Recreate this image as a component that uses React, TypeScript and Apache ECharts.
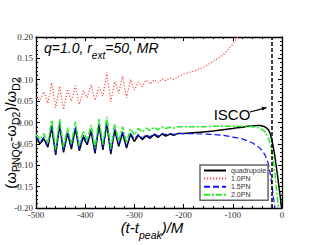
import React, { useEffect, useRef } from "react";
import * as echarts from "echarts";

const times = [
  -500, -492, -484, -476, -468, -460, -452, -444, -436, -428, -420, -412, -404, -396, -388, -380, -372, -364, -356, -348, -340, -332, -324, -316, -308, -300,
  -292, -284, -276, -268, -260, -252, -244, -236, -228, -220, -212,
  -200, -180, -160, -140, -120, -100, -90, -80, -70, -60, -50, -45, -40, -35, -30, -27, -24, -21, -18, -15, -12, -9, -6, -3, 0,
];

const quadrupole = [
  -0.035, -0.050, -0.038, -0.058, -0.010, -0.076, -0.006, -0.070, -0.025, -0.062, -0.014, -0.066, -0.034, -0.052, -0.020, -0.072, -0.006, -0.064, -0.001, -0.074, -0.018, -0.056, -0.024, -0.060, -0.028, -0.044,
  -0.030, -0.040, -0.031, -0.037, -0.028, -0.035, -0.027, -0.032, -0.027, -0.030, -0.026,
  -0.026, -0.024, -0.022, -0.020, -0.017, -0.014, -0.012, -0.011, -0.009, -0.008, -0.007, -0.007, -0.008, -0.010, -0.014, -0.018, -0.026, -0.040, -0.055, -0.075, -0.100, -0.125, -0.152, -0.178, -0.210,
];

const pn10 = [
  0.060, 0.052, 0.072, 0.045, 0.093, 0.034, 0.085, 0.030, 0.078, 0.050, 0.086, 0.042, 0.074, 0.058, 0.088, 0.052, 0.082, 0.062, 0.117, 0.049, 0.096, 0.068, 0.108, 0.058, 0.101, 0.076,
  0.095, 0.084, 0.099, 0.090, 0.100, 0.094, 0.102, 0.098, 0.104, 0.101, 0.106,
  0.114, 0.120, 0.129, 0.143, 0.158, 0.183, 0.200, 0.222, null, null, null, null, null, null, null, null, null, null, null, null, null, null, null, null, null,
];

const pn15 = [
  -0.032, -0.047, -0.034, -0.055, -0.006, -0.072, -0.002, -0.066, -0.021, -0.058, -0.010, -0.062, -0.030, -0.048, -0.016, -0.068, -0.002, -0.060, 0.003, -0.070, -0.014, -0.052, -0.020, -0.056, -0.025, -0.040,
  -0.027, -0.037, -0.028, -0.034, -0.026, -0.032, -0.025, -0.029, -0.025, -0.028, -0.025,
  -0.026, -0.026, -0.027, -0.028, -0.030, -0.034, -0.036, -0.039, -0.043, -0.048, -0.055, -0.060, -0.066, -0.075, -0.088, -0.100, -0.120, -0.142, -0.170, -0.195, -0.230, -0.270, -0.300, -0.330, -0.360,
];

const pn20 = [
  -0.028, -0.040, -0.026, -0.048, 0.006, -0.064, 0.008, -0.058, -0.012, -0.050, 0.002, -0.054, -0.020, -0.042, -0.006, -0.060, 0.008, -0.052, 0.013, -0.062, -0.004, -0.044, -0.010, -0.048, -0.014, -0.030,
  -0.014, -0.022, -0.013, -0.019, -0.011, -0.017, -0.010, -0.014, -0.011, -0.013, -0.010,
  -0.010, -0.010, -0.010, -0.009, -0.009, -0.009, -0.009, -0.009, -0.009, -0.010, -0.012, -0.014, -0.017, -0.021, -0.030, -0.038, -0.050, -0.065, -0.088, -0.115, -0.145, -0.180, -0.215, -0.250, -0.280,
];

const iscoT = -21;
const seriesNames = ["quadrupole", "1.0PN", "1.5PN", "2.0PN"];

const pairs = (vals: (number | null)[]) => times.map((t, i) => [t, vals[i]]);

export default function App() {
  const ref = useRef<HTMLDivElement>(null);
  useEffect(() => {
    document.body.style.margin = "0";
    const chart = echarts.init(ref.current!, null, { renderer: "svg" });
    const tickLabel = { fontFamily: "Liberation Serif", fontSize: 9, color: "#333" };
    const axisCommon = {
      axisLine: { show: true, onZero: false, lineStyle: { color: "#000", width: 1.3 } },
      axisTick: { show: true, inside: true, length: 4, lineStyle: { color: "#000", width: 1 } },
      minorTick: { show: true, splitNumber: 5, length: 2, lineStyle: { color: "#000", width: 1 } },
      splitLine: { show: false },
    };
    chart.setOption({
      animation: false,
      grid: { left: 36, right: 35, top: 37, bottom: 37 },
      xAxis: [
        {
          type: "value", min: -500, max: 0, interval: 100, position: "bottom",
          ...axisCommon,
          axisLabel: { ...tickLabel, margin: 2 },
        },
        {
          type: "value", min: -500, max: 0, interval: 100, position: "top",
          ...axisCommon, axisLabel: { show: false },
        },
      ],
      yAxis: [
        {
          type: "value", min: -0.2, max: 0.2, interval: 0.05, position: "left",
          ...axisCommon,
          axisLabel: { ...tickLabel, margin: 3, formatter: (v: number) => v.toFixed(2) },
        },
        {
          type: "value", min: -0.2, max: 0.2, interval: 0.05, position: "right",
          ...axisCommon, axisLabel: { show: false },
        },
      ],
      legend: {
        left: 200, top: 165, orient: "vertical",
        data: seriesNames,
        itemWidth: 22, itemHeight: 6, itemGap: 1.1,
        padding: [2, 2, 2, 3],
        borderColor: "#666", borderWidth: 1.5, backgroundColor: "#fff",
        textStyle: { fontFamily: "Liberation Sans", fontSize: 7, lineHeight: 7, color: "#333" },
        itemStyle: { opacity: 0 },
      },
      series: [
        {
          name: seriesNames[0], type: "line", symbol: "none", data: pairs(quadrupole),
          lineStyle: { color: "#000", width: 1.5 }, itemStyle: { color: "#000" },
          markLine: {
            silent: true, symbol: ["none", "none"], label: { show: false },
            lineStyle: { color: "#000", type: [4, 2], width: 1.5 },
            data: [{ xAxis: iscoT }],
          },
        },
        {
          name: seriesNames[1], type: "line", symbol: "none", data: pairs(pn10), connectNulls: false,
          lineStyle: { color: "#ff4444", width: 1.2, type: [1.2, 1.8] }, itemStyle: { color: "#ff4444" },
        },
        {
          name: seriesNames[2], type: "line", symbol: "none", data: pairs(pn15),
          lineStyle: { color: "#1010ff", width: 1.2, type: [6, 3] }, itemStyle: { color: "#1010ff" },
        },
        {
          name: seriesNames[3], type: "line", symbol: "none", data: pairs(pn20),
          lineStyle: { color: "#22ee22", width: 1.5, type: [6, 2, 2, 2] }, itemStyle: { color: "#22ee22" },
        },
      ],
      graphic: [
        {
          type: "text", left: 44, top: 41,
          style: {
            text: "{a|q=1.0, r}{s|ext}{a|=50, MR}",
            rich: {
              a: { fontFamily: "Liberation Sans", fontStyle: "italic", fontSize: 14, lineHeight: 19, verticalAlign: "top", fill: "#000" },
              s: { fontFamily: "Liberation Sans", fontStyle: "italic", fontSize: 10, lineHeight: 19, verticalAlign: "bottom", fill: "#000" },
            },
          },
        },
        {
          type: "text", x: 12, y: 133, rotation: Math.PI / 2,
          style: {
            text: "{a|(ω}{s|PNQC}{a|-ω}{s|D2}{a|)/ω}{s|D2}",
            align: "center", verticalAlign: "middle",
            rich: {
              a: { fontFamily: "Liberation Sans", fontSize: 15, lineHeight: 19, verticalAlign: "top", fill: "#000" },
              s: { fontFamily: "Liberation Sans", fontSize: 10.5, lineHeight: 19, verticalAlign: "bottom", fill: "#000" },
            },
          },
        },
        {
          type: "text", x: 152, y: 230,
          style: {
            text: "{a|(t-t}{s|peak}{a|)/M}",
            align: "center", verticalAlign: "middle",
            rich: {
              a: { fontFamily: "Liberation Sans", fontStyle: "italic", fontSize: 15, lineHeight: 20, verticalAlign: "top", fill: "#000" },
              s: { fontFamily: "Liberation Sans", fontStyle: "italic", fontSize: 10.5, lineHeight: 20, verticalAlign: "bottom", fill: "#000" },
            },
          },
        },
        {
          type: "text", x: 232, y: 114,
          style: { text: "ISCO", fontFamily: "Liberation Sans", fontSize: 15, fill: "#000", align: "center", verticalAlign: "middle" },
        },
        {
          type: "line",
          shape: { x1: 250, y1: 112, x2: 263, y2: 108.7 },
          style: { stroke: "#000", lineWidth: 1.2 },
        },
        {
          type: "polygon",
          shape: { points: [[267.5, 107.5], [262.6, 110.6], [261.6, 106.7]] },
          style: { fill: "#000" },
        },
      ],
    });
    return () => chart.dispose();
  }, []);
  return <div ref={ref} style={{ width: 317, height: 245 }} />;
}
